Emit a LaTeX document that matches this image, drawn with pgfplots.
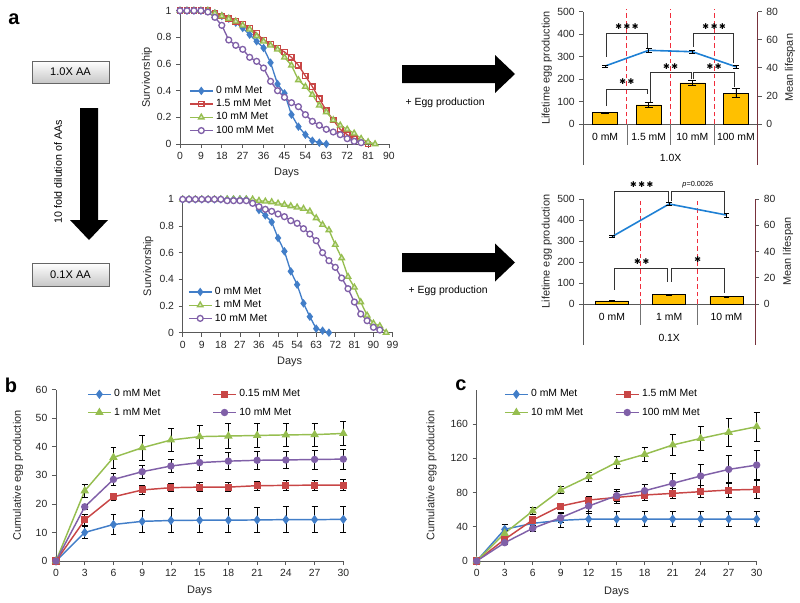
\documentclass[border=0pt]{standalone}
\usepackage{fontspec}
\setmainfont{Liberation Sans}
\newfontfamily\symfont{DejaVu Sans}
\usepackage{pgfplots}
\pgfplotsset{compat=1.18}

\definecolor{cblue}{RGB}{66,126,200}
\definecolor{cred}{RGB}{200,70,70}
\definecolor{cgreen}{RGB}{150,190,80}
\definecolor{cpurple}{RGB}{128,96,168}
\definecolor{cgold}{RGB}{255,192,0}
\definecolor{cline}{RGB}{30,128,212}
\definecolor{cmaroon}{RGB}{120,50,60}
\definecolor{cdash}{RGB}{240,45,60}

\tikzset{
  dashln/.style={cdash, line width=0.8pt, dash pattern=on 3.5pt off 2.2pt},
  sepln/.style={black!55, line width=0.6pt},
  brk/.style={black!80, line width=0.6pt},
  stars/.style={font=\symfont\fontsize{6}{6}\selectfont, inner sep=0pt},
}

\pgfplotsset{
  base/.style={
    scale only axis, anchor=south west, clip=false,
    axis lines=left,
    axis line style={-, draw=black!65, line width=0.6pt},
    tick align=outside, major tick length=3pt,
    tick style={draw=black!65, line width=0.6pt},
    font=\fontsize{7.8}{9}\selectfont,
    tick label style={text=black!85},
    label style={text=black!85, font=\fontsize{8.2}{9}\selectfont},
    /pgf/number format/assume math mode=true,
    legend cell align=left,
    legend style={draw=none, fill=none, inner sep=0pt,
      font=\fontsize{7.8}{9}\selectfont, row sep=-1pt},
  },
  errs/.style={error bars/.cd, y dir=both, y explicit,
    error bar style={black, line width=0.5pt},
    error mark options={rotate=90, black, mark size=2.2pt, line width=0.5pt}},
  sblue/.style={cblue, line width=1pt, mark=diamond*, mark size=2.4pt, mark options={fill=cblue}},
  sred/.style={cred, line width=1pt, mark=square, mark size=2pt, mark options={fill=white}},
  sgreen/.style={cgreen, line width=1pt, mark=triangle*, mark size=2.4pt, mark options={fill=cgreen!35!white}},
  spurple/.style={cpurple, line width=1pt, mark=*, mark size=2.2pt, mark options={fill=white}},
  fblue/.style={cblue, line width=1.1pt, mark=diamond*, mark size=2.6pt, mark options={fill=cblue}},
  fred/.style={cred, line width=1.1pt, mark=square*, mark size=2.1pt, mark options={fill=cred}},
  fgreen/.style={cgreen, line width=1.1pt, mark=triangle*, mark size=2.6pt, mark options={fill=cgreen}},
  fpurple/.style={cpurple, line width=1.1pt, mark=*, mark size=2.2pt, mark options={fill=cpurple}},
}

\begin{document}
\begin{tikzpicture}
\useasboundingbox (0,0) rectangle (600pt,-452.25pt);

% ---------- panel a, left diagram ----------
\begin{scope}[x=0.75pt, y=-0.75pt]
  \node[font=\bfseries\fontsize{15}{15}\selectfont] at (14,19) {a};
  \node[font=\bfseries\fontsize{15}{15}\selectfont] at (11,385) {b};
  \node[font=\bfseries\fontsize{15}{15}\selectfont] at (461,385) {c};
  \draw[black!60, top color=white, bottom color=black!22] (32,61) rectangle (109,83);
  \node[font=\fontsize{8.3}{9}\selectfont] at (70.5,72) {1.0X AA};
  \draw[black!60, top color=white, bottom color=black!22] (32,263) rectangle (109,286);
  \node[font=\fontsize{8.3}{9}\selectfont] at (70.5,274.5) {0.1X AA};
  \fill (80,108) -- (98,108) -- (98,220) -- (108,220) -- (89,240) -- (70,220) -- (80,220) -- cycle;
  \node[rotate=90, font=\fontsize{8}{9}\selectfont] at (58,172) {10 fold dilution of AAs};
  \fill (402,65) -- (495,65) -- (495,55) -- (515,74) -- (495,93) -- (495,83) -- (402,83) -- cycle;
  \fill (402,253) -- (495,253) -- (495,243.5) -- (515,262.5) -- (495,281.5) -- (495,272) -- (402,272) -- cycle;
  \node[anchor=west, font=\fontsize{7.8}{9}\selectfont] at (401,103) {+ Egg production};
  \node[anchor=west, font=\fontsize{7.8}{9}\selectfont] at (404,291) {+ Egg production};
\end{scope}

% ---------- survivorship 1.0X ----------
\begin{axis}[base, at={(135pt,-108pt)}, width=156.75pt, height=100pt,
  xmin=0, xmax=90, ymin=0, ymax=1,
  xtick={0,9,...,90}, ytick={0,0.2,0.4,0.6,0.8,1},
  xlabel={Days}, ylabel={Survivorship},
  xlabel style={at={(axis description cs:0.51,-0.218)}, anchor=center},
  ylabel style={at={(axis description cs:-0.158,0.5)}, anchor=center},
  legend style={at={(0.043,0.455)}, anchor=north west}]
\addplot[sblue] coordinates {(0,1)(3,1)(6,1)(9,1)(12,1)(15,0.98)(18,0.96)(21,0.94)(24,0.91)(27,0.87)(30,0.82)(33,0.77)(36,0.72)(39,0.61)(42,0.45)(45,0.38)(48,0.22)(51,0.13)(54,0.07)(57,0.025)(60,0.01)(63,0)};
\addplot[sred] coordinates {(0,1)(3,1)(6,1)(9,1)(12,1)(15,0.98)(18,0.96)(21,0.94)(24,0.92)(27,0.9)(30,0.87)(33,0.83)(36,0.78)(39,0.75)(42,0.72)(45,0.69)(48,0.65)(51,0.59)(54,0.51)(57,0.43)(60,0.34)(63,0.25)(66,0.18)(69,0.11)(72,0.07)(75,0.04)(78,0.02)(81,0)};
\addplot[sgreen] coordinates {(0,1)(3,1)(6,1)(9,1)(12,1)(15,0.98)(18,0.96)(21,0.94)(24,0.92)(27,0.89)(30,0.86)(33,0.81)(36,0.77)(39,0.74)(42,0.71)(45,0.65)(48,0.59)(51,0.48)(54,0.43)(57,0.37)(60,0.29)(63,0.24)(66,0.18)(69,0.14)(72,0.11)(75,0.08)(78,0.04)(81,0.015)(84,0)};
\addplot[spurple] coordinates {(0,1)(3,1)(6,1)(9,1)(12,0.99)(15,0.95)(18,0.89)(21,0.78)(24,0.74)(27,0.71)(30,0.65)(33,0.62)(36,0.57)(39,0.47)(42,0.4)(45,0.35)(48,0.31)(51,0.28)(54,0.22)(57,0.17)(60,0.14)(63,0.11)(66,0.09)(69,0.07)(72,0.04)(75,0.02)(78,0.01)};
\legend{0 mM Met, 1.5 mM Met, 10 mM Met, 100 mM Met}
\end{axis}

% ---------- survivorship 0.1X ----------
\begin{axis}[base, at={(137pt,-249.5pt)}, width=157.4pt, height=100pt,
  xmin=0, xmax=99, ymin=0, ymax=1,
  xtick={0,9,...,99}, ytick={0,0.2,0.4,0.6,0.8,1},
  xlabel={Days}, ylabel={Survivorship},
  xlabel style={at={(axis description cs:0.51,-0.218)}, anchor=center},
  ylabel style={at={(axis description cs:-0.164,0.5)}, anchor=center},
  legend style={at={(0.025,0.362)}, anchor=north west}]
\addplot[sblue] coordinates {(0,1)(3,1)(6,1)(9,1)(12,1)(15,1)(18,1)(21,1)(24,1)(27,1)(30,1)(33,0.99)(36,0.92)(39,0.88)(42,0.83)(45,0.71)(48,0.61)(51,0.46)(54,0.36)(57,0.22)(60,0.12)(63,0.03)(66,0.015)(69,0)};
\addplot[sgreen] coordinates {(0,1)(3,1)(6,1)(9,1)(12,1)(15,1)(18,1)(21,1)(24,1)(27,1)(30,1)(33,1)(36,0.99)(39,0.985)(42,0.98)(45,0.97)(48,0.96)(51,0.95)(54,0.94)(57,0.93)(60,0.91)(63,0.86)(66,0.81)(69,0.77)(72,0.66)(75,0.56)(78,0.42)(81,0.34)(84,0.23)(87,0.13)(90,0.07)(93,0.05)(96,0)};
\addplot[spurple] coordinates {(0,1)(3,1)(6,1)(9,1)(12,1)(15,1)(18,1)(21,0.99)(24,0.99)(27,0.99)(30,0.99)(33,0.97)(36,0.945)(39,0.925)(42,0.91)(45,0.89)(48,0.87)(51,0.84)(54,0.82)(57,0.78)(60,0.74)(63,0.69)(66,0.6)(69,0.54)(72,0.49)(75,0.41)(78,0.33)(81,0.23)(84,0.14)(87,0.09)(90,0.04)(93,0.02)};
\legend{0 mM Met, 1 mM Met, 10 mM Met}
\end{axis}

% ---------- bar chart 1.0X ----------
\begin{axis}[base, at={(437.5pt,-93pt)}, width=130.8pt, height=84.2pt,
  xmin=-0.5, xmax=3.5, ymin=0, ymax=500, xtick=\empty, ytick={0,100,...,500},
  ybar, bar width=18.75pt,
  ylabel={Lifetime egg production},
  ylabel style={at={(axis description cs:-0.21,0.5)}, anchor=center}]
\addplot[fill=cgold, draw=black, line width=0.5pt, errs, error mark options={rotate=90, black, mark size=3pt, line width=0.5pt}]
  coordinates {(0,50) +- (0,4) (1,85) +- (0,10) (2,183) +- (0,10) (3,138) +- (0,20)};
\draw[dashln] (axis cs:0.5,0) -- (axis cs:0.5,510);
\draw[dashln] (axis cs:1.5,0) -- (axis cs:1.5,510);
\draw[dashln] (axis cs:2.5,0) -- (axis cs:2.5,510);
\draw[sepln] (axis cs:0.5,0) -- ([yshift=-15.75pt]axis cs:0.5,0);
\draw[sepln] (axis cs:1.5,0) -- ([yshift=-15.75pt]axis cs:1.5,0);
\draw[sepln] (axis cs:2.5,0) -- ([yshift=-15.75pt]axis cs:2.5,0);
\draw[black!65, line width=0.6pt] (axis cs:-0.5,0) -- ([yshift=-30.75pt]axis cs:-0.5,0);
\node at (axis cs:0,0) [yshift=-10pt] {0 mM};
\node at (axis cs:1,0) [yshift=-10pt] {1.5 mM};
\node at (axis cs:2,0) [yshift=-10pt] {10 mM};
\node at (axis cs:3,0) [yshift=-10pt] {100 mM};
\node at (axis cs:1.5,0) [yshift=-25.7pt] {1.0X};
\draw[brk] (axis cs:0.02,300) -- (axis cs:0.02,404) -- (axis cs:0.98,404) -- (axis cs:0.98,337);
\draw[brk] (axis cs:2.02,344) -- (axis cs:2.02,404) -- (axis cs:2.95,404) -- (axis cs:2.95,270);
\draw[brk] (axis cs:0.02,80) -- (axis cs:0.02,154) -- (axis cs:0.98,154) -- (axis cs:0.98,134);
\draw[brk] (axis cs:1.03,99) -- (axis cs:1.03,228) -- (axis cs:1.97,228) -- (axis cs:1.97,200);
\draw[brk] (axis cs:2.03,200) -- (axis cs:2.03,228) -- (axis cs:2.97,228) -- (axis cs:2.97,166);
\node[stars] at (axis cs:0.5,436) {✱\hspace{1.2pt}✱\hspace{1.2pt}✱};
\node[stars] at (axis cs:2.5,436) {✱\hspace{1.2pt}✱\hspace{1.2pt}✱};
\node[stars] at (axis cs:0.5,188) {✱\hspace{1.2pt}✱};
\node[stars] at (axis cs:1.5,255) {✱\hspace{1.2pt}✱};
\node[stars] at (axis cs:2.5,255) {✱\hspace{1.2pt}✱};
\end{axis}
\begin{axis}[base, at={(437.5pt,-93pt)}, width=130.8pt, height=84.2pt,
  xmin=-0.5, xmax=3.5, ymin=0, ymax=80, ytick={0,20,...,80},
  axis x line=none, axis y line*=right,
  y axis line style={draw=cmaroon},
  ylabel={Mean lifespan},
  ylabel style={at={(axis description cs:1.185,0.5)}, anchor=center}]
\addplot[cline, line width=1.2pt, mark=none, errs] coordinates {(0,41.3) +- (0,0.8) (1,52.5) +- (0,1.2) (2,51.5) +- (0,1) (3,40.8) +- (0,1.2)};
\draw[cmaroon, line width=0.6pt] (axis cs:3.5,0) -- ([yshift=-30.75pt]axis cs:3.5,0);
\end{axis}

% ---------- bar chart 0.1X ----------
\begin{axis}[base, at={(437.5pt,-228pt)}, width=128.8pt, height=78.75pt,
  xmin=-0.5, xmax=2.5, ymin=0, ymax=500, xtick=\empty, ytick={0,100,...,500},
  ybar, bar width=24.75pt,
  ylabel={Lifetime egg production},
  ylabel style={at={(axis description cs:-0.213,0.5)}, anchor=center}]
\addplot[fill=cgold, draw=black, line width=0.5pt, errs]
  coordinates {(0,15) +- (0,3) (1,45) +- (0,3) (2,36) +- (0,2)};
\draw[dashln] (axis cs:0.5,0) -- (axis cs:0.5,500);
\draw[dashln] (axis cs:1.5,0) -- (axis cs:1.5,500);
\draw[sepln] (axis cs:0.5,0) -- ([yshift=-15.75pt]axis cs:0.5,0);
\draw[sepln] (axis cs:1.5,0) -- ([yshift=-15.75pt]axis cs:1.5,0);
\draw[black!65, line width=0.6pt] (axis cs:-0.5,0) -- ([yshift=-30.75pt]axis cs:-0.5,0);
\node at (axis cs:0,0) [yshift=-10pt] {0 mM};
\node at (axis cs:1,0) [yshift=-10pt] {1 mM};
\node at (axis cs:2,0) [yshift=-10pt] {10 mM};
\node at (axis cs:1,0) [yshift=-25.3pt] {0.1X};
\draw[brk] (axis cs:0.05,320) -- (axis cs:0.05,535) -- (axis cs:0.98,535) -- (axis cs:0.98,487);
\draw[brk] (axis cs:1.03,490) -- (axis cs:1.03,535) -- (axis cs:1.96,535) -- (axis cs:1.96,432);
\draw[brk] (axis cs:0.05,67) -- (axis cs:0.05,170) -- (axis cs:0.97,170) -- (axis cs:0.97,106);
\draw[brk] (axis cs:1.045,106) -- (axis cs:1.045,170) -- (axis cs:1.96,170) -- (axis cs:1.96,54);
\node[stars] at (axis cs:0.52,567) {✱\hspace{1.2pt}✱\hspace{1.2pt}✱};
\node[stars] at (axis cs:0.52,201) {✱\hspace{1.2pt}✱};
\node[stars] at (axis cs:1.5,210) {✱};
\node[font=\fontsize{5.5}{6}\selectfont, inner sep=0pt] at (axis cs:1.5,567) {\textit{p}=0.0026};
\end{axis}
\begin{axis}[base, at={(437.5pt,-228pt)}, width=128.8pt, height=78.75pt,
  xmin=-0.5, xmax=2.5, ymin=0, ymax=80, ytick={0,20,...,80},
  axis x line=none, axis y line*=right,
  y axis line style={draw=cmaroon},
  ylabel={Mean lifespan},
  ylabel style={at={(axis description cs:1.192,0.5)}, anchor=center}]
\addplot[cline, line width=1.2pt, mark=none, errs] coordinates {(0,51.3) +- (0,0.8) (1,76.2) +- (0,1) (2,67.8) +- (0,1.5)};
\draw[cmaroon, line width=0.6pt] (axis cs:2.5,0) -- ([yshift=-30.75pt]axis cs:2.5,0);
\end{axis}

% ---------- panel b ----------
\begin{axis}[base, at={(42pt,-420.75pt)}, width=215.5pt, height=128.4pt,
  xmin=0, xmax=30, ymin=0, ymax=60, xtick={0,3,...,30}, ytick={0,10,...,60},
  xlabel={Days}, ylabel={Cumulative egg production},
  xlabel style={at={(axis description cs:0.5,-0.173)}, anchor=center},
  ylabel style={at={(axis description cs:-0.132,0.5)}, anchor=center},
  legend columns=2,
  legend style={at={(0.108,1.018)}, anchor=north west, row sep=2.7pt,
    /tikz/every even column/.append style={column sep=37pt}}]
\addplot[fblue, errs] coordinates {(0,0) +- (0,0) (3,10) +- (0,2) (6,12.8) +- (0,3.6) (9,13.9) +- (0,4) (12,14.2) +- (0,4.2) (15,14.3) +- (0,4.3) (18,14.3) +- (0,4.3) (21,14.4) +- (0,4.5) (24,14.5) +- (0,4.6) (27,14.5) +- (0,4.6) (30,14.6) +- (0,4.6)};
\addplot[fred, errs] coordinates {(0,0) +- (0,0) (3,14.4) +- (0,1.8) (6,22.5) +- (0,1.3) (9,24.9) +- (0,1.7) (12,25.7) +- (0,1.4) (15,25.9) +- (0,1.5) (18,25.9) +- (0,1.5) (21,26.4) +- (0,1.6) (24,26.5) +- (0,1.6) (27,26.6) +- (0,1.8) (30,26.6) +- (0,2)};
\addplot[fgreen, errs] coordinates {(0,0) +- (0,0) (3,24.6) +- (0,2.4) (6,36.3) +- (0,3.7) (9,39.7) +- (0,4.5) (12,42.4) +- (0,4.1) (15,43.6) +- (0,4) (18,43.8) +- (0,4.3) (21,44.0) +- (0,4.3) (24,44.2) +- (0,3.9) (27,44.3) +- (0,4) (30,44.7) +- (0,4.1)};
\addplot[fpurple, errs] coordinates {(0,0) +- (0,0) (3,19.0) +- (0,1) (6,28.6) +- (0,2) (9,31.3) +- (0,2.3) (12,33.3) +- (0,2.3) (15,34.5) +- (0,2.6) (18,35.0) +- (0,3) (21,35.3) +- (0,3.1) (24,35.4) +- (0,3) (27,35.6) +- (0,3.3) (30,35.7) +- (0,3.4)};
\legend{0 mM Met, 0.15 mM Met, 1 mM Met, 10 mM Met}
\end{axis}

% ---------- panel c ----------
\begin{axis}[base, at={(357.5pt,-420.75pt)}, width=210pt, height=128.4pt,
  xmin=0, xmax=30, ymin=0, ymax=200, xtick={0,3,...,30}, ytick={0,40,...,160},
  xlabel={Days}, ylabel={Cumulative egg production},
  xlabel style={at={(axis description cs:0.5,-0.179)}, anchor=center},
  ylabel style={at={(axis description cs:-0.161,0.5)}, anchor=center},
  legend columns=2,
  legend style={at={(0.0975,1.018)}, anchor=north west, row sep=2.7pt,
    /tikz/every even column/.append style={column sep=22pt}}]
\addplot[fblue, errs] coordinates {(0,0) +- (0,0) (3,37) +- (0,6) (6,44) +- (0,7) (9,47.5) +- (0,8) (12,49) +- (0,9) (15,49) +- (0,9) (18,49) +- (0,9) (21,49) +- (0,9) (24,49) +- (0,9) (27,49) +- (0,9) (30,49) +- (0,9)};
\addplot[fred, errs] coordinates {(0,0) +- (0,0) (3,25.3) +- (0,3) (6,47.9) +- (0,4) (9,64.2) +- (0,3) (12,71.2) +- (0,4) (15,74.3) +- (0,7) (18,77.1) +- (0,6) (21,79.0) +- (0,6) (24,81.0) +- (0,7) (27,82.9) +- (0,9) (30,83.7) +- (0,11)};
\addplot[fgreen, errs] coordinates {(0,0) +- (0,0) (3,32.3) +- (0,3) (6,58.4) +- (0,4) (9,82.9) +- (0,4) (12,98.5) +- (0,5) (15,115.2) +- (0,7.5) (18,124.6) +- (0,8) (21,135.5) +- (0,12) (24,143.2) +- (0,14) (27,150.3) +- (0,16) (30,156.9) +- (0,17)};
\addplot[fpurple, errs] coordinates {(0,0) +- (0,0) (3,21.4) +- (0,2) (6,38.1) +- (0,3) (9,50.6) +- (0,6) (12,64.2) +- (0,8) (15,76.3) +- (0,7) (18,82.1) +- (0,8) (21,90.7) +- (0,12) (24,99.3) +- (0,14) (27,107.0) +- (0,16) (30,112.1) +- (0,17)};
\legend{0 mM Met, 1.5 mM Met, 10 mM Met, 100 mM Met}
\end{axis}
\end{tikzpicture}
\end{document}
